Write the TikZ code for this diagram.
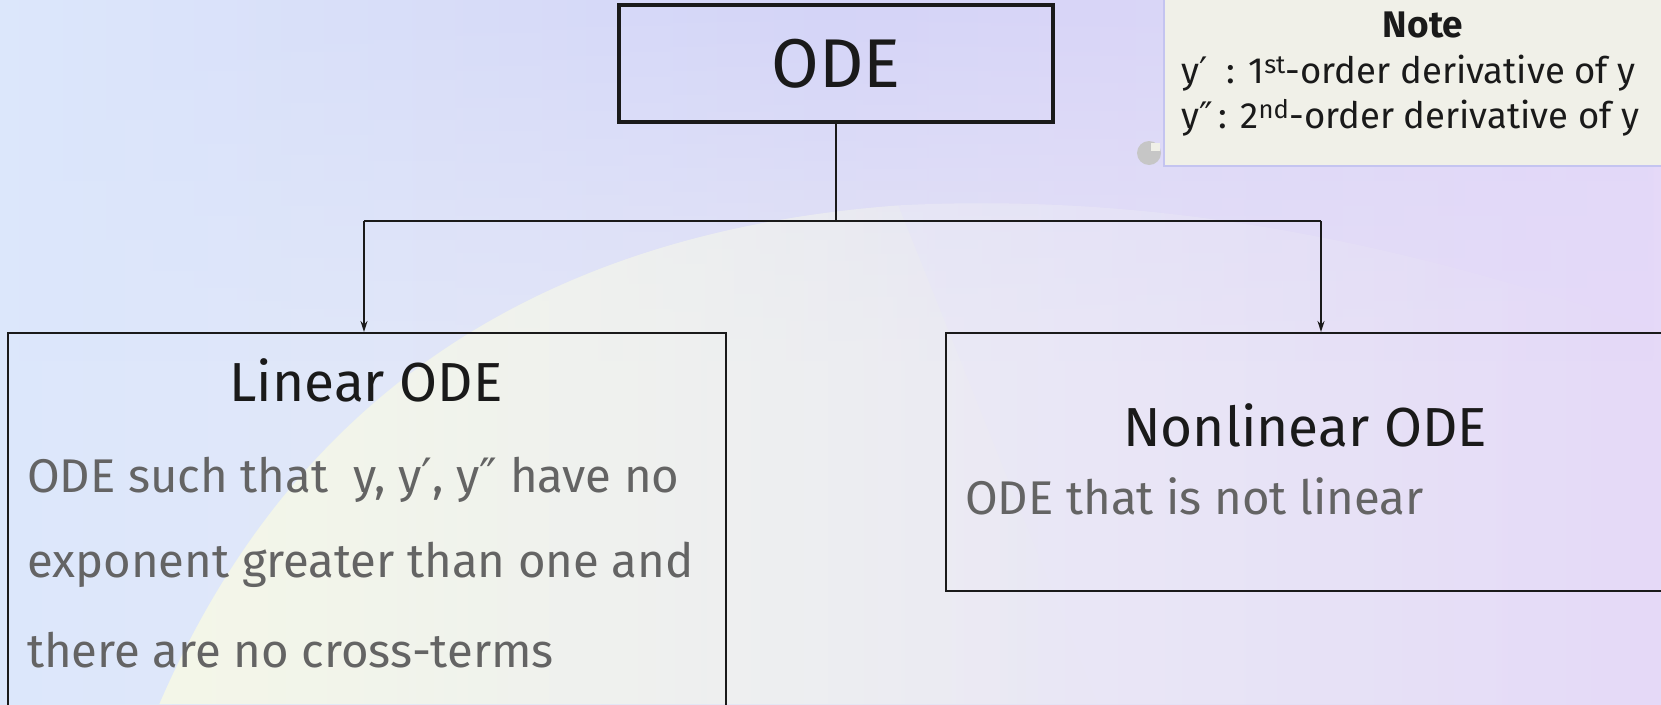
\documentclass[tikz,border=0pt]{standalone}
\usepackage{fontspec}
\setmainfont{Fira Sans}
\newfontfamily\pf{DejaVu Sans}
\newcommand{\pr}{{\pf ′}}
\newcommand{\dpr}{{\pf ″}}
\usetikzlibrary{arrows.meta,fadings}
\definecolor{bgL}{HTML}{DCE7FB}
\definecolor{bgM}{HTML}{E6E6F6}
\definecolor{bgR}{HTML}{E5D9F8}
\definecolor{lav}{HTML}{D4D4F8}
\definecolor{sweepY}{HTML}{F5F8E6}
\definecolor{sweepG}{HTML}{F0F0F5}
\definecolor{notefill}{HTML}{F0F0E8}
\definecolor{noteedge}{HTML}{C4C4F0}
\definecolor{bodygray}{HTML}{646464}
\definecolor{ink}{HTML}{1A1A1A}
\tikzfading[name=fadedown, top color=transparent!0, bottom color=transparent!100]
\tikzfading[name=faderight, left color=transparent!0, right color=transparent!100]
\begin{document}
\begin{tikzpicture}[x=1pt,y=-1pt,
  box/.style={draw=ink, line width=1.8pt, inner sep=0pt},
  conn/.style={draw=ink, line width=1.6pt},
  arr/.style={conn, -{Stealth[length=11pt,width=7pt]}},
  title/.style={text=ink, inner sep=0pt, font=\fontsize{55}{60}\selectfont},
  body/.style={text=bodygray, inner sep=0pt, anchor=base west,
    font=\fontsize{47.3}{50}\selectfont},
  notetext/.style={text=ink, inner sep=0pt, anchor=base west,
    font=\fontsize{36.5}{40}\selectfont},
]
\useasboundingbox (0,0) rectangle (1661,704);
\clip (0,0) rectangle (1661,704);
% background
\shade[left color=bgL, right color=bgR, middle color=bgM] (0,0) rectangle (1661,704);
\shade[left color=bgL, right color=bgR!80!lav, middle color=lav, path fading=fadedown]
  (0,0) rectangle (1661,360);
\fill[sweepG, path fading=faderight, opacity=0.9]
  (160,704) .. controls (300,380) and (560,230) .. (900,205)
  .. controls (1200,190) and (1450,260) .. (1661,330) -- (1661,704) -- cycle;
\fill[sweepY, path fading=faderight, opacity=0.85]
  (160,704) .. controls (300,380) and (560,230) .. (900,205)
  -- (1100,704) -- cycle;
% note
\node[draw=noteedge, fill=notefill, line width=2pt, minimum width=540pt,
  minimum height=200pt, anchor=south west, inner sep=0pt] (note) at (1163,167) {};
\fill[gray!45] (1149,153) circle (12);
\fill[notefill] (1151,143) rectangle (1160,151);
\node[inner sep=0pt, text=ink, anchor=base, font=\fontsize{37}{40}\selectfont\bfseries]
  (notet) at (1423,37) {Note};
\node[notetext] (n1) at (1181,83) {y\pr\ \ : 1\textsuperscript{st}-order derivative of y};
\node[notetext] (n2) at (1181,128) {y\dpr\,: 2\textsuperscript{nd}-order derivative of y};
% ODE root
\node[box, line width=3.2pt, minimum width=434pt, minimum height=117pt,
  font=\fontsize{69}{74}\selectfont, text=ink] (ode) at (836,63.5) {ODE};
% child boxes
\node[box, minimum width=718pt, minimum height=440pt, anchor=north west] (lin) at (7,332) {};
\node[box, minimum width=780pt, minimum height=258pt, anchor=north west] (nonlin) at (945,332) {};
\node[title, anchor=base] (lint) at (366,401) {Linear ODE};
\node[body] (lb1) at (27,492) {ODE such that\ \ y, y\pr, y\dpr\ have no};
\node[body] (lb2) at (27,577) {exponent greater than one and};
\node[body] (lb3) at (27,667) {there are no cross-terms};
\node[title, anchor=base] (nlt) at (1305,446) {Nonlinear ODE};
\node[body] (nb1) at (965,514) {ODE that is not linear};
% connectors
\coordinate (split) at (836,221);
\coordinate (sl) at (364,221);
\coordinate (sr) at (1321,221);
\draw[conn] (ode.south) -- (split);
\draw[conn] (sl) -- (sr);
\draw[arr] (sl) -- (sl |- lin.north);
\draw[arr] (sr) -- (sr |- nonlin.north);
\end{tikzpicture}
\end{document}
